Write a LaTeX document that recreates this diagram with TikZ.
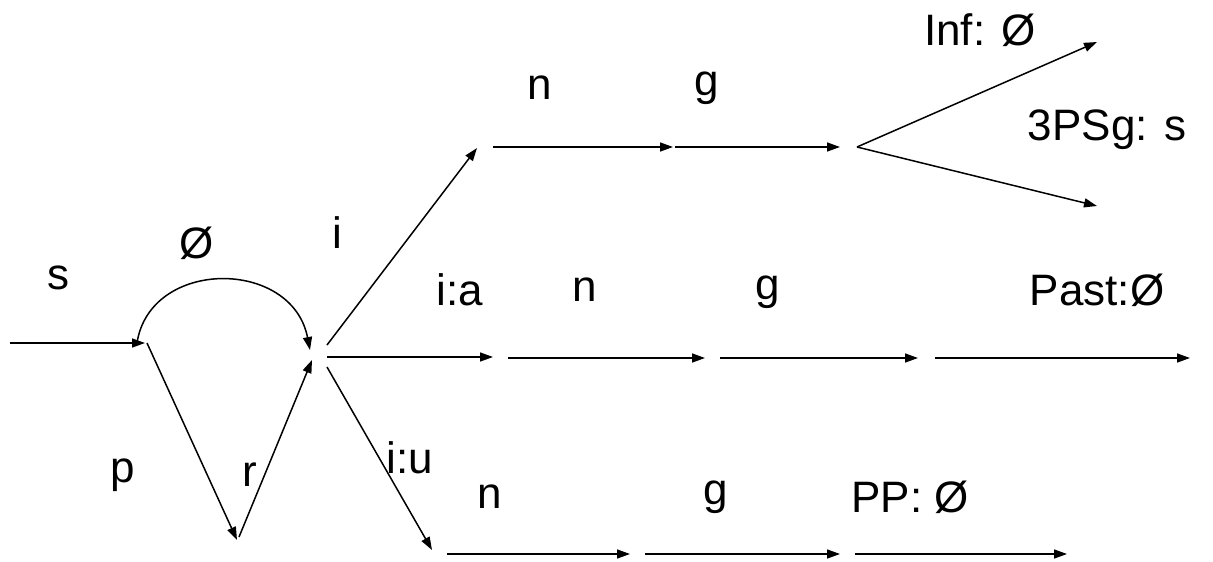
\documentclass[tikz,border=0pt]{standalone}
\usepackage{fontspec}
\setmainfont{Liberation Sans}
\usetikzlibrary{arrows.meta}
\begin{document}
\begin{tikzpicture}[x=1pt,y=-1pt,
  edge/.style={line width=1.5pt,-{Triangle[length=13pt,width=9pt]}},
  lbl/.style={font=\fontsize{44}{44}\selectfont,inner sep=0pt}]
\useasboundingbox (0,0) rectangle (1213,562);
% coordinates
\coordinate (s0) at (10,343);   \coordinate (s1) at (145,343);
\coordinate (a0) at (137,343);  \coordinate (a1) at (310,350);
\coordinate (p0) at (147,343);  \coordinate (p1) at (237,540);
\coordinate (r0) at (239,537);  \coordinate (r1) at (312,360);
\coordinate (i0) at (327,345);  \coordinate (i1) at (477,148);
\coordinate (ia0) at (327,357); \coordinate (ia1) at (493,357);
\coordinate (iu0) at (327,367); \coordinate (iu1) at (432,550);
\coordinate (t0) at (493,147);  \coordinate (t1) at (673,147);
\coordinate (t2) at (675,147);  \coordinate (t3) at (840,147);
\coordinate (f0) at (857,147);  \coordinate (fu) at (1097,42);
\coordinate (fl) at (1097,206);
\coordinate (m0) at (508,358);  \coordinate (m1) at (705,358);
\coordinate (m2) at (720,358);  \coordinate (m3) at (918,358);
\coordinate (m4) at (935,358);  \coordinate (m5) at (1190,358);
\coordinate (b0) at (447,554);  \coordinate (b1) at (630,554);
\coordinate (b2) at (645,554);  \coordinate (b3) at (840,554);
\coordinate (b4) at (855,554);  \coordinate (b5) at (1067,554);
% connectors
\draw[edge] (s0) -- (s1);
\draw[edge] (a0) .. controls (150,258) and (292,258) .. (a1);
\draw[edge] (p0) -- (p1);
\draw[edge] (r0) -- (r1);
\draw[edge] (i0) -- (i1);
\draw[edge] (ia0) -- (ia1);
\draw[edge] (iu0) -- (iu1);
\draw[edge] (t0) -- (t1);
\draw[edge] (t2) -- (t3);
\draw[edge] (f0) -- (fu);
\draw[edge] (f0) -- (fl);
\draw[edge] (m0) -- (m1);
\draw[edge] (m2) -- (m3);
\draw[edge] (m4) -- (m5);
\draw[edge] (b0) -- (b1);
\draw[edge] (b2) -- (b3);
\draw[edge] (b4) -- (b5);
% labels
\node[lbl] (ls) at (58,278) {s};
\node[lbl] (lz) at (197,243) {Ø};
\node[lbl] (li) at (337,233) {i};
\node[lbl] (lp) at (123,475) {p};
\node[lbl] (lr) at (250,475) {r};
\node[lbl] (liu) at (410,458) {i:u};
\node[lbl] (lia) at (460,290) {i:a};
\node[lbl] (lmn) at (585,290) {n};
\node[lbl] (lmg) at (768,292) {g};
\node[lbl] (lpast) at (1097,290) {Past:Ø};
\node[lbl] (ltn) at (540,88) {n};
\node[lbl] (ltg) at (707,88) {g};
\node[lbl] (linf) at (980,30) {Inf: Ø};
\node[lbl] (l3ps) at (1107,130) {3PSg: s};
\node[lbl] (lbn) at (490,497) {n};
\node[lbl] (lbg) at (716,497) {g};
\node[lbl] (lpp) at (910,497) {PP: Ø};
\end{tikzpicture}
\end{document}
